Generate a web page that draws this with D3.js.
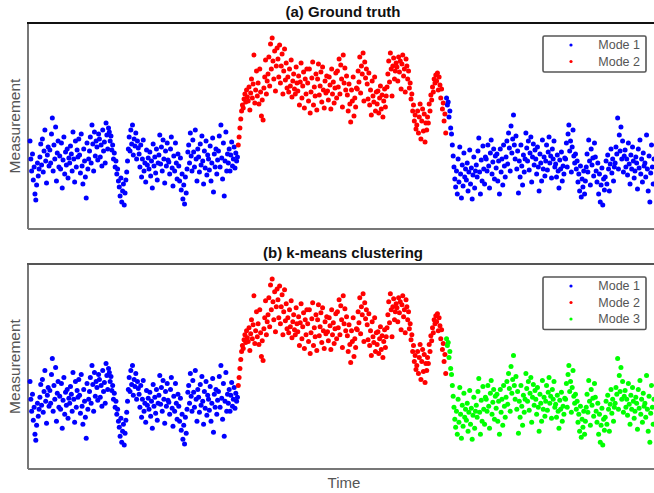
<!DOCTYPE html>
<html>
<head>
<meta charset="utf-8">
<script src="https://cdn.jsdelivr.net/npm/d3@7"></script>
<style>
  body { margin: 0; background: #fff; }
  svg { display: block; }
</style>
</head>
<body>
<div id="wrapper"></div>
<script>
const segmentA = [
  88, 70, 58, 75, 49, 62, 35, 29, 44, 66, 53, 60,
  72, 85, 64, 90, 57, 78, 99, 68, 46, 74, 82, 63,
  79, 66, 95, 111, 58, 84, 70, 102, 48, 76, 88, 62,
  73, 60, 86, 41, 69, 92, 55, 77, 64, 80, 51, 71,
  66, 83, 75, 58, 97, 70, 47, 88, 62, 79, 72, 90,
  74, 56, 95, 63, 45, 80, 68, 52, 31, 86, 60, 70,
  78, 92, 66, 104, 85, 58, 97, 73, 88, 82, 69, 95,
  90, 72, 84, 63, 99, 78, 87, 66, 106, 94, 80, 101,
  97, 88, 93, 79, 84, 70, 76, 62, 68, 55, 60, 48,
  42, 33, 51, 27, 38, 45, 24, 36, 49, 57, 68, 80,
  92, 78, 99, 85, 104, 74, 90, 83, 96, 70, 88, 81,
  75, 62, 84, 52, 70, 89, 58, 66, 47, 79, 64, 71,
  60, 77, 53, 68, 41, 85, 63, 72, 56, 80, 49, 66,
  74, 94, 65, 82, 58, 89, 70, 46, 78, 63, 86, 69,
  67, 55, 80, 92, 61, 43, 73, 58, 86, 66, 50, 75,
  63, 48, 71, 39, 55, 30, 44, 25, 52, 36, 60, 77,
  84, 66, 96, 73, 58, 89, 77, 62, 99, 70, 48, 80,
  72, 57, 85, 64, 93, 68, 45, 78, 61, 88, 54, 74,
  70, 59, 83, 48, 66, 91, 37, 75, 62, 80, 55, 69,
  78, 93, 62, 104, 71, 50, 86, 33, 68, 97, 58, 75,
  66, 80, 58, 74, 87, 63, 70, 82, 61, 76, 68, 72
]
const segmentB = [
  84, 92, 101, 110, 118, 124, 121, 130, 135, 127, 139, 132,
  128, 142, 119, 136, 150, 131, 145, 174, 126, 139, 158, 133,
  146, 125, 160, 137, 113, 129, 109, 141, 152, 169, 135, 148,
  155, 172, 143, 185, 160, 191, 168, 150, 178, 138, 163, 181,
  170, 152, 184, 146, 163, 175, 135, 158, 180, 149, 166, 141,
  152, 137, 160, 143, 169, 132, 148, 155, 140, 135, 162, 146,
  138, 153, 124, 147, 166, 131, 143, 157, 121, 150, 135, 160,
  146, 128, 160, 116, 137, 151, 167, 124, 142, 133, 155, 119,
  150, 165, 134, 143, 157, 127, 162, 139, 121, 148, 136, 153,
  138, 129, 152, 144, 120, 160, 135, 147, 126, 141, 156, 131,
  158, 142, 170, 135, 164, 150, 122, 174, 146, 161, 139, 153,
  134, 118, 145, 125, 107, 139, 128, 152, 113, 131, 122, 141,
  140, 158, 147, 172, 136, 163, 155, 176, 128, 167, 151, 160,
  145, 130, 156, 124, 139, 114, 148, 133, 127, 152, 118, 137,
  125, 138, 116, 131, 143, 120, 134, 112, 128, 140, 122, 133,
  142, 155, 168, 147, 176, 160, 133, 163, 171, 150, 158, 166,
  162, 148, 172, 157, 168, 140, 165, 174, 153, 160, 137, 170,
  163, 150, 158, 141, 146, 130, 135, 118, 124, 108, 114, 100,
  104, 118, 96, 112, 125, 90, 108, 120, 98, 115, 87, 106,
  99, 112, 106, 125, 118, 134, 129, 142, 137, 150, 146, 154,
  148, 156, 139, 152, 144, 131, 140, 120, 126, 108, 115, 96
]
const segmentC = [
  131, 124, 127, 112, 118, 101, 95, 84, 73, 62, 50, 42,
  58, 35, 70, 47, 82, 55, 31, 64, 43, 76, 52, 60,
  49, 66, 38, 57, 79, 45, 61, 30, 54, 72, 41, 58,
  64, 52, 78, 91, 57, 35, 69, 48, 83, 60, 45, 72,
  70, 58, 84, 63, 41, 76, 89, 55, 67, 80, 50, 73,
  61, 75, 48, 68, 35, 80, 57, 70, 44, 84, 63, 52,
  72, 88, 65, 96, 81, 58, 103, 76, 90, 114, 84, 70,
  93, 60, 78, 36, 68, 52, 84, 63, 44, 74, 57, 70,
  96, 81, 68, 88, 59, 76, 92, 47, 72, 85, 64, 79,
  70, 55, 82, 62, 38, 75, 66, 48, 89, 60, 72, 53,
  68, 84, 59, 77, 92, 66, 73, 51, 80, 70, 88, 62,
  65, 52, 74, 58, 41, 69, 60, 77, 48, 63, 55, 71,
  70, 86, 62, 95, 104, 78, 88, 57, 82, 99, 73, 66,
  75, 60, 68, 47, 55, 38, 63, 32, 50, 42, 58, 35,
  48, 62, 75, 57, 89, 68, 44, 80, 64, 71, 53, 86,
  72, 58, 47, 66, 35, 55, 27, 44, 61, 24, 50, 39,
  52, 68, 45, 74, 60, 38, 65, 80, 56, 70, 48, 62,
  66, 82, 75, 111, 60, 94, 78, 102, 70, 88, 57, 73,
  79, 62, 70, 54, 86, 65, 45, 74, 60, 82, 68, 51,
  58, 72, 66, 40, 80, 61, 89, 55, 70, 47, 76, 63,
  66, 52, 94, 60, 38, 73, 27, 56, 84, 62, 45, 70
]
const segments = [segmentA, segmentB, segmentC]
// mode of each segment in each panel
const truthModes = [1, 2, 1]
const kmeansModes = [1, 2, 3]
const truthLegend = ["Mode 1", "Mode 2"]
const kmeansLegend = ["Mode 1", "Mode 2", "Mode 3"]
const modeColor = { 1: "#0000ff", 2: "#ff0000", 3: "#00ff00" }

// flatten into points with time index
let dataset = []
segments.forEach((seg, s) => seg.forEach(v => dataset.push({ t: dataset.length, v: v, seg: s })))

const width = 654
const height = 493
const svg = d3.select("#wrapper").append("svg").attr("width", width).attr("height", height)

const panels = [
  { title: "(a) Ground truth", top: 23, bottom: 229, modes: truthModes, legend: truthLegend, topStroke: "#111" },
  { title: "(b) k-means clustering", top: 264, bottom: 469, modes: kmeansModes, legend: kmeansLegend, topStroke: "#555" },
]
const left = 28
const right = 668

const xScaler = d3.scaleLinear()
  .domain([0, dataset.length - 1])
  .range([30, 654])

panels.forEach(p => {
  const g = svg.append("g")
  const yScaler = d3.scaleLinear().domain([0, 206]).range([p.bottom, p.top])

  // frame
  g.append("line").attr("x1", left).attr("x2", right).attr("y1", p.bottom).attr("y2", p.bottom)
    .attr("stroke", "#777").attr("stroke-width", 2)
  g.append("line").attr("x1", left).attr("x2", left).attr("y1", p.top).attr("y2", p.bottom)
    .attr("stroke", "#777").attr("stroke-width", 2)
  g.append("line").attr("x1", left - 1).attr("x2", right).attr("y1", p.top).attr("y2", p.top)
    .attr("stroke", p.topStroke).attr("stroke-width", 2)

  // points
  g.append("g").selectAll("circle").data(dataset).enter().append("circle")
    .attr("cx", d => xScaler(d.t))
    .attr("cy", d => yScaler(d.v))
    .attr("r", 2.5)
    .attr("fill", d => modeColor[p.modes[d.seg]])

  // title
  g.append("text")
    .attr("x", 343).attr("y", p.top - 6)
    .attr("text-anchor", "middle")
    .attr("font-family", "Liberation Sans, Arial, sans-serif")
    .attr("font-weight", "bold").attr("font-size", 15)
    .attr("fill", "#111")
    .text(p.title)

  // y label
  const midY = (p.top + p.bottom) / 2
  g.append("text")
    .attr("transform", `translate(20,${midY}) rotate(-90)`)
    .attr("text-anchor", "middle")
    .attr("font-family", "Liberation Sans, Arial, sans-serif")
    .attr("font-size", 15.5)
    .attr("fill", "#555")
    .text("Measurement")

  // legend
  const lx = 543, ly = p.top + 13, rowH = 16.5
  const lh = p.legend.length * rowH + 3
  g.append("rect")
    .attr("x", lx).attr("y", ly).attr("width", 103).attr("height", lh)
    .attr("rx", 1.5)
    .attr("fill", "#fff").attr("stroke", "#555").attr("stroke-width", 1.6)
  p.legend.forEach((name, i) => {
    const cy = ly + 9 + i * rowH
    g.append("circle").attr("cx", 571).attr("cy", cy).attr("r", 1.6).attr("fill", modeColor[i + 1])
    g.append("text")
      .attr("x", 640).attr("y", cy + 4)
      .attr("text-anchor", "end")
      .attr("font-family", "Liberation Sans, Arial, sans-serif")
      .attr("font-size", 12.5)
      .attr("fill", "#555")
      .text(name)
  })
})

// x label
svg.append("text")
  .attr("x", 344).attr("y", 488)
  .attr("text-anchor", "middle")
  .attr("font-family", "Liberation Sans, Arial, sans-serif")
  .attr("font-size", 15)
  .attr("fill", "#555")
  .text("Time")
</script>
</body>
</html>
